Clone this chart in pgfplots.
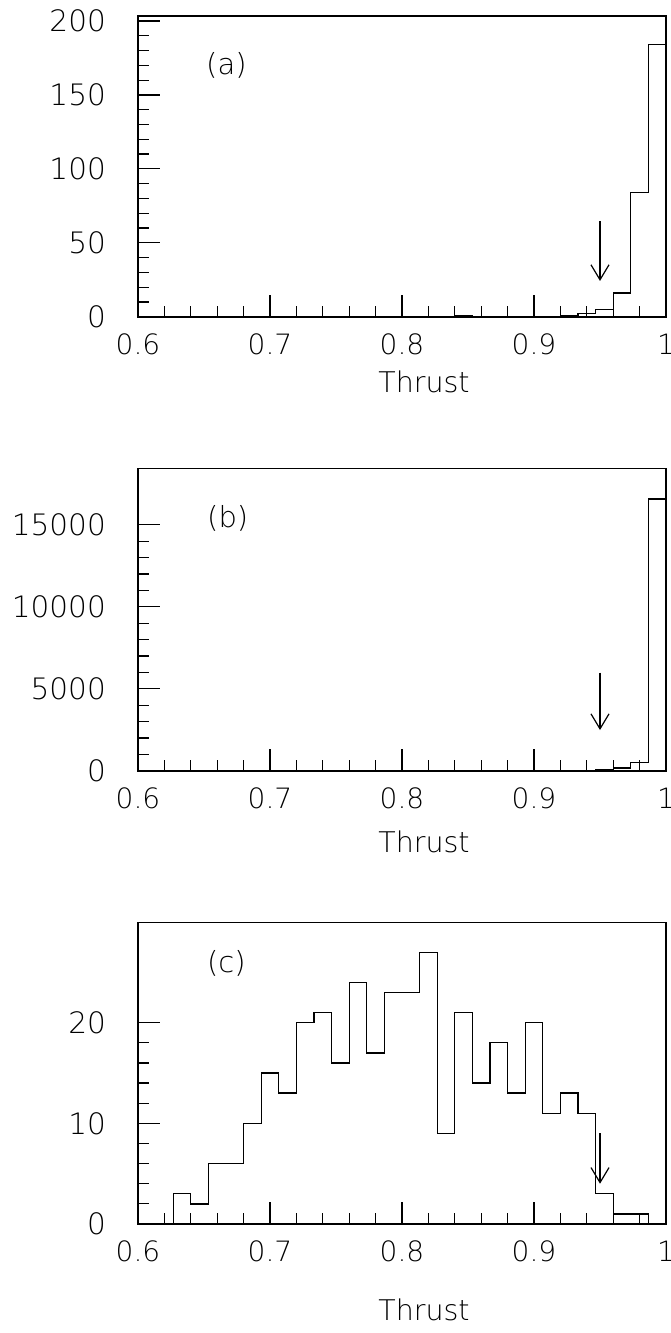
\documentclass[border=0pt]{standalone}
\usepackage{fontspec}
\setmainfont{DejaVu Sans ExtraLight}
\usepackage{pgfplots}
\usepackage{pgfplotstable}
\pgfplotsset{compat=1.18}
\usetikzlibrary{arrows.meta}

% Thrust distributions, 30 bins between 0.6 and 1.0 (left bin edge, content);
% the last row closes the final bin at 1.0.
\pgfplotstableread{
x y
0.60000 0
0.61333 0
0.62667 0
0.64000 0
0.65333 0
0.66667 0
0.68000 0
0.69333 0
0.70667 0
0.72000 0
0.73333 0
0.74667 0
0.76000 0
0.77333 0
0.78667 0
0.80000 0
0.81333 0
0.82667 0
0.84000 1
0.85333 0
0.86667 0
0.88000 0
0.89333 0
0.90667 0
0.92000 1
0.93333 2
0.94667 5
0.96000 16
0.97333 84
0.98667 184
1.00000 184
}\histA
\pgfplotstableread{
x y
0.60000 0
0.61333 0
0.62667 0
0.64000 0
0.65333 0
0.66667 0
0.68000 0
0.69333 0
0.70667 0
0.72000 0
0.73333 0
0.74667 0
0.76000 0
0.77333 0
0.78667 0
0.80000 0
0.81333 0
0.82667 0
0.84000 2
0.85333 5
0.86667 6
0.88000 8
0.89333 10
0.90667 12
0.92000 15
0.93333 30
0.94667 45
0.96000 160
0.97333 500
0.98667 16570
1.00000 16570
}\histB
\pgfplotstableread{
x y
0.60000 0
0.61333 0
0.62667 3
0.64000 2
0.65333 6
0.66667 6
0.68000 10
0.69333 15
0.70667 13
0.72000 20
0.73333 21
0.74667 16
0.76000 24
0.77333 17
0.78667 23
0.80000 23
0.81333 27
0.82667 9
0.84000 21
0.85333 14
0.86667 18
0.88000 13
0.89333 20
0.90667 11
0.92000 13
0.93333 11
0.94667 3
0.96000 1
0.97333 1
0.98667 0
1.00000 0
}\histC

\tikzset{
  cutarrow/.style={line width=1.2pt, -{Straight Barb[length=15pt, width=18pt, line width=1.2pt]}},
}
\pgfplotsset{
  thrustpanel/.style={
    scale only axis,
    width=528pt,
    xmin=0.6, xmax=1.0,
    ymin=0,
    anchor=south west,
    axis line style={line width=1.6pt},
    tick align=inside,
    xtick pos=bottom, ytick pos=left,
    xtick={0.6,0.7,0.8,0.9,1.0},
    minor x tick num=4,
    minor y tick num=4,
    major tick length=22pt,
    minor tick length=11pt,
    every tick/.style={line width=1.2pt, black},
    scaled ticks=false,
    /pgf/number format/assume math mode=true,
    /pgf/number format/1000 sep={},
    xticklabel style={font=\fontsize{28}{30}\selectfont, anchor=north, inner sep=0pt, yshift=-17pt},
    yticklabel style={font=\fontsize{29.5}{31}\selectfont, anchor=east, inner sep=0pt, xshift=-32pt},
    xlabel={Thrust},
    xlabel style={font=\fontsize{28.5}{30}\selectfont, at={(rel axis cs:0.5417,0)}, anchor=center, inner sep=0pt},
  },
  histline/.style={black, line width=1.3pt, const plot mark left, mark=none},
}

\begin{document}
\begin{tikzpicture}
\path[use as bounding box] (0pt,0pt) rectangle (670pt,-1333pt);

% (a)
\begin{axis}[thrustpanel, at={(138pt,-316.7pt)}, height=301pt,
  ymax=203.6, ytick={0,50,100,150,200},
  xlabel style={yshift=-65pt}]
  \addplot[histline] table[x=x, y=y] {\histA};
  \draw[cutarrow] (axis cs:0.95,64.7) -- (axis cs:0.95,24.2);
  \node[font=\fontsize{29}{30}\selectfont] at (axis cs:0.667,170) {(a)};
\end{axis}

% (b)
\begin{axis}[thrustpanel, at={(138pt,-770.7pt)}, height=302.4pt,
  ymax=18440, ytick={0,5000,10000,15000},
  xlabel style={yshift=-71pt}]
  \addplot[histline] table[x=x, y=y] {\histB};
  \draw[cutarrow] (axis cs:0.95,5976) -- (axis cs:0.95,2482);
  \node[font=\fontsize{29}{30}\selectfont] at (axis cs:0.668,15400) {(b)};
\end{axis}

% (c)
\begin{axis}[thrustpanel, at={(138pt,-1224pt)}, height=301.7pt,
  ymax=29.97, ytick={0,10,20},
  xlabel style={yshift=-86pt}]
  \addplot[histline] table[x=x, y=y] {\histC};
  \draw[cutarrow] (axis cs:0.95,9) -- (axis cs:0.95,4);
  \node[font=\fontsize{29}{30}\selectfont] at (axis cs:0.667,25.9) {(c)};
\end{axis}
\end{tikzpicture}
\end{document}
